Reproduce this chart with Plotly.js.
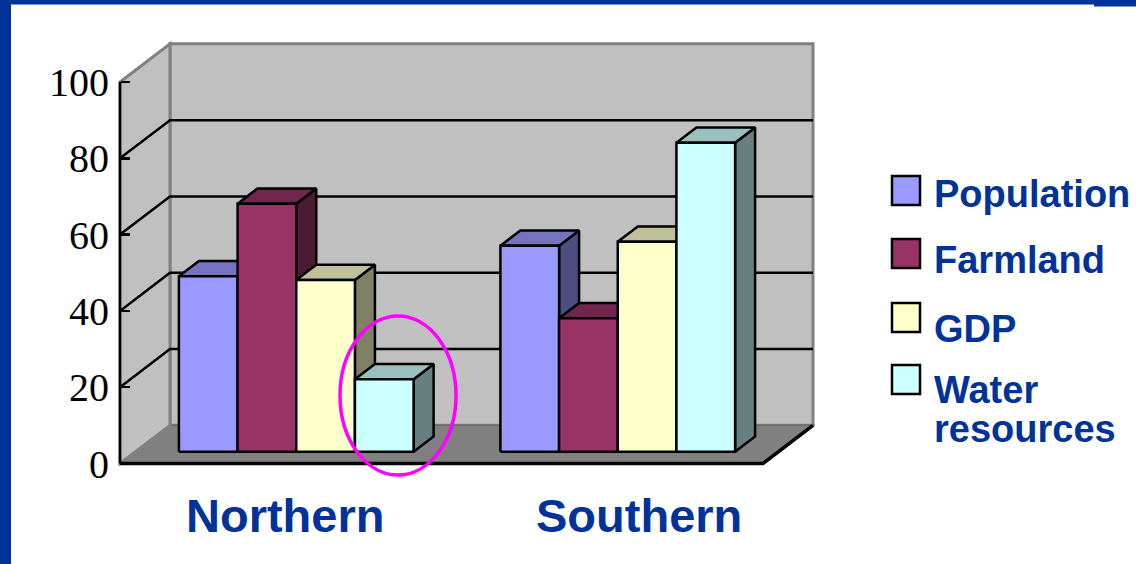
<!DOCTYPE html>
<html>
<head>
<meta charset="utf-8">
<script src="https://cdn.plot.ly/plotly-3.0.1.min.js"></script>
<style>
  html, body { margin: 0; padding: 0; background: #ffffff; }
  #chart { width: 1136px; height: 564px; }
</style>
</head>
<body>
<div id="chart"></div>
<script>
// ---- data ----
const categories = ['Northern', 'Southern'];
const seriesNames = ['Population', 'Farmland', 'GDP', 'Water resources'];
const population = [46, 54];
const farmland = [65, 35];
const gdp = [45, 55];
const water = [19, 81];
const yTicks = [0, 20, 40, 60, 80, 100];

// ---- styles ----
const frontColors = ['#9999FF', '#993366', '#FFFFCC', '#CCFFFF'];
const topColors   = ['#7373BF', '#73264D', '#BFBF99', '#99BFBF'];
const sideColors  = ['#4D4D80', '#4D1A33', '#808066', '#668080'];
const seriesValues = [population, farmland, gdp, water];

// ---- geometry (pixel layout of the pseudo-3D box) ----
const FIG_W = 1136, FIG_H = 564;
const PL = 110, PR = 820, PT = 36, PB = 470;       // plot area in pixels
const PW = PR - PL, PH = PB - PT;
const KX = 321.5, XEDGE_PX = 120;                   // px per x unit; pixel of x = -0.5
const KY = 3.815, YZERO_PX = 463.5;                 // px per y unit; pixel of y = 0
const xRange = [-0.5 - (XEDGE_PX - PL) / KX, -0.5 + (PR - XEDGE_PX) / KX];
const yRange = [-(PB - YZERO_PX) / KY, (YZERO_PX - PT) / KY];
const px2x = px => (px - PL) / PW;                  // pixel -> paper
const py2y = py => (PB - py) / PH;

const X0 = -0.5, X1 = 1.5;        // front floor edge in data units
const DX = 50 / KX, DY = 10;      // full depth offset
const F0 = 0.31, F1 = 0.71;       // bar front / back depth fractions
const GROUP_W = 0.73;
const BW = GROUP_W / seriesNames.length;

// ---- walls, floor and gridlines as shapes (drawn below traces) ----
const shapes = [];
const pathOf = pts => 'M' + pts.map(p => p[0] + ',' + p[1]).join(' L') + ' Z';
const openPath = pts => 'M' + pts.map(p => p[0] + ',' + p[1]).join(' L');
const WALL = '#C0C0C0', WALL_EDGE = '#808080', FLOOR = '#808080';
const yTop = yTicks[yTicks.length - 1];

// back wall
shapes.push({type: 'path', xref: 'x', yref: 'y', layer: 'below',
  path: pathOf([[X0 + DX, DY], [X1 + DX, DY], [X1 + DX, yTop + DY], [X0 + DX, yTop + DY]]),
  fillcolor: WALL, line: {color: WALL_EDGE, width: 3}});
// floor
shapes.push({type: 'path', xref: 'x', yref: 'y', layer: 'below',
  path: pathOf([[X0, 0], [X1, 0], [X1 + DX, DY], [X0 + DX, DY]]),
  fillcolor: FLOOR, line: {color: '#6a6a6a', width: 1.5}});
// left wall
shapes.push({type: 'path', xref: 'x', yref: 'y', layer: 'below',
  path: pathOf([[X0, 0], [X0 + DX, DY], [X0 + DX, yTop + DY], [X0, yTop]]),
  fillcolor: WALL, line: {color: WALL_EDGE, width: 3}});
// gridlines (left wall + back wall)
yTicks.slice(1, -1).forEach(v => {
  shapes.push({type: 'path', xref: 'x', yref: 'y', layer: 'below',
    path: openPath([[X0, v], [X0 + DX, v + DY], [X1 + DX, v + DY]]),
    line: {color: '#000000', width: 2.5}});
});
// front left edge (value axis line)
shapes.push({type: 'line', xref: 'x', yref: 'y', layer: 'below',
  x0: X0, y0: 0, x1: X0, y1: yTop, line: {color: '#000000', width: 2.5}});
// front floor edge
shapes.push({type: 'path', xref: 'x', yref: 'y', layer: 'below',
  path: openPath([[X0, 0], [X1, 0], [X1 + DX, DY]]),
  line: {color: '#000000', width: 3.5}});

// ---- bars as 3D faces built from the data ----
const traces = [];
function face(xs, ys, color) {
  traces.push({
    type: 'scatter', mode: 'lines',
    x: xs.concat([xs[0]]), y: ys.concat([ys[0]]),
    fill: 'toself', fillcolor: color,
    line: {color: '#000000', width: 2.5},
    hoverinfo: 'skip', showlegend: false
  });
}
const dX = (F1 - F0) * DX, dY = (F1 - F0) * DY;
categories.forEach((cat, c) => {
  seriesValues.forEach((vals, s) => {
    const v = vals[c];
    const x0 = c - GROUP_W / 2 + s * BW + F0 * DX;
    const x1 = x0 + BW;
    const yb = F0 * DY;
    const yt = yb + v;
    // side face
    face([x1, x1 + dX, x1 + dX, x1], [yb, yb + dY, yt + dY, yt], sideColors[s]);
    // top face
    face([x0, x1, x1 + dX, x0 + dX], [yt, yt, yt + dY, yt + dY], topColors[s]);
    // front face
    face([x0, x1, x1, x0], [yb, yb, yt, yt], frontColors[s]);
  });
});

// ---- annotations: category labels and legend ----
const BLUE = '#003399';
const annotations = [];
const catLabelX = [284.5, 638.5];
categories.forEach((cat, i) => {
  annotations.push({xref: 'paper', yref: 'paper', x: px2x(catLabelX[i]), y: py2y(515.5),
    xanchor: 'center', yanchor: 'middle', showarrow: false, text: cat,
    font: {family: 'Liberation Sans, Arial, sans-serif', size: 47, weight: 'bold', color: BLUE}});
});

const legBoxTop = [176, 239, 303, 365];
const legTextLines = [['Population'], ['Farmland'], ['GDP'], seriesNames[3].split(' ')];
const legTextY = [[193.5], [259.7], [328.7], [390, 428.7]];
seriesNames.forEach((name, s) => {
  shapes.push({type: 'rect', xref: 'paper', yref: 'paper', layer: 'above',
    x0: px2x(892), x1: px2x(920), y0: py2y(legBoxTop[s]), y1: py2y(legBoxTop[s] + 29),
    fillcolor: frontColors[s], line: {color: '#000000', width: 2.5}});
  legTextLines[s].forEach((line, k) => {
    annotations.push({xref: 'paper', yref: 'paper', x: px2x(932), y: py2y(legTextY[s][k]),
      xanchor: 'left', yanchor: 'middle', showarrow: false, text: line,
      font: {family: 'Liberation Sans, Arial, sans-serif', size: 38, weight: 'bold', color: BLUE}});
  });
});

// highlight ellipse
shapes.push({type: 'circle', xref: 'paper', yref: 'paper', layer: 'above',
  x0: px2x(340), x1: px2x(456), y0: py2y(475), y1: py2y(316),
  line: {color: '#FF00FF', width: 3.5}});

// blue frame of the slide
shapes.push({type: 'rect', xref: 'paper', yref: 'paper', layer: 'above',
  x0: px2x(0), x1: px2x(1094), y0: py2y(4.5), y1: py2y(0), fillcolor: BLUE, line: {width: 0}});
shapes.push({type: 'rect', xref: 'paper', yref: 'paper', layer: 'above',
  x0: px2x(1094), x1: px2x(FIG_W), y0: py2y(6.5), y1: py2y(0), fillcolor: BLUE, line: {width: 0}});
shapes.push({type: 'rect', xref: 'paper', yref: 'paper', layer: 'above',
  x0: px2x(0), x1: px2x(11), y0: py2y(FIG_H), y1: py2y(0), fillcolor: BLUE, line: {width: 0}});

const layout = {
  width: FIG_W, height: FIG_H,
  margin: {l: PL, r: FIG_W - PR, t: PT, b: FIG_H - PB, pad: 0},
  paper_bgcolor: '#ffffff', plot_bgcolor: '#ffffff',
  showlegend: false, hovermode: false,
  xaxis: {range: xRange, visible: false, fixedrange: true},
  yaxis: {range: yRange, anchor: 'free', position: px2x(XEDGE_PX),
    tickvals: yTicks, ticktext: yTicks.map(String),
    ticks: 'inside', ticklen: 9, tickwidth: 2.5, tickcolor: '#000000',
    showgrid: false, zeroline: false, showline: false, ticklabelstandoff: 11,
    tickfont: {family: 'Liberation Serif, Times New Roman, serif', size: 40, color: '#000000'},
    fixedrange: true},
  shapes: shapes,
  annotations: annotations
};

Plotly.newPlot('chart', traces, layout, {staticPlot: true, displayModeBar: false});
</script>
</body>
</html>
